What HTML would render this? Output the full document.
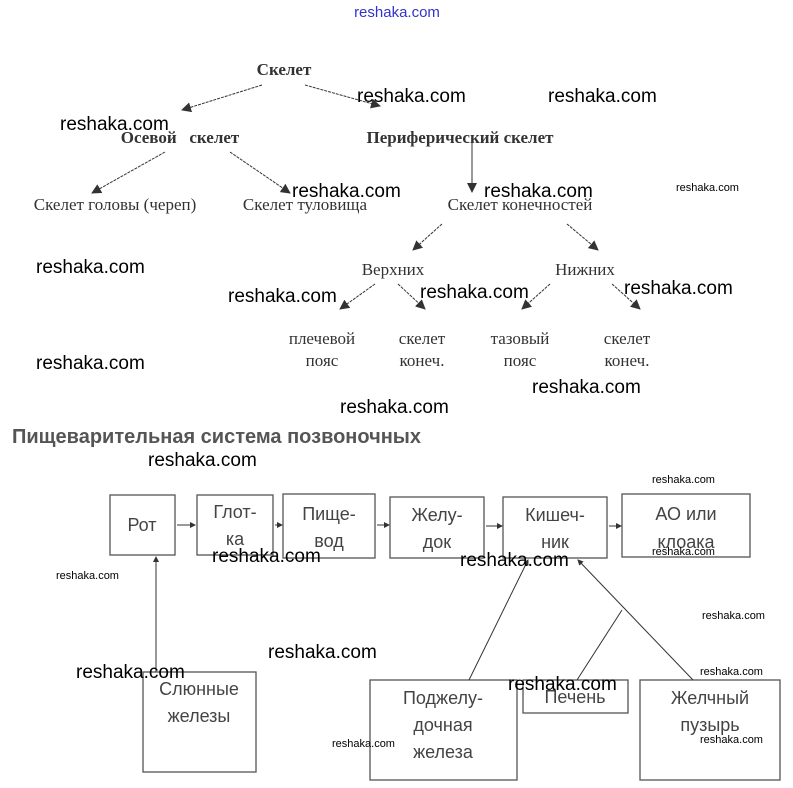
<!DOCTYPE html>
<html><head><meta charset="utf-8"><style>
html,body{margin:0;padding:0;background:#fff;}
svg{display:block}
.s{font-family:"Liberation Serif","DejaVu Serif",serif;fill:#333;font-size:17px}
.b{font-family:"Liberation Sans","DejaVu Sans",sans-serif;fill:#444;font-size:18px}
.w{font-family:"Liberation Sans","DejaVu Sans",sans-serif;fill:#000;font-size:19px}
.ws{font-family:"Liberation Sans","DejaVu Sans",sans-serif;fill:#000;font-size:11px}
</style></head><body>
<svg width="793" height="788" viewBox="0 0 793 788" xmlns="http://www.w3.org/2000/svg">
<defs><marker id="a" markerWidth="10" markerHeight="10" refX="9" refY="5" orient="auto" markerUnits="userSpaceOnUse"><path d="M0,0 L10,5 L0,10z" fill="#333"/></marker>
<marker id="m" markerWidth="6" markerHeight="6" refX="5" refY="3" orient="auto" markerUnits="userSpaceOnUse"><path d="M0,0 L6,3 L0,6z" fill="#333"/></marker></defs>
<text x="397" y="17" text-anchor="middle" font-family="Liberation Sans,sans-serif" font-size="15" fill="#3333cc">reshaka.com</text>
<g stroke="#333" stroke-width="1" stroke-dasharray="3,1" fill="none" marker-end="url(#a)">
<line x1="262" y1="85" x2="182" y2="110"/><line x1="305" y1="85" x2="380" y2="106"/>
<line x1="165" y1="152" x2="92" y2="193"/><line x1="230" y1="152" x2="290" y2="193"/>
<line x1="472" y1="142" x2="472" y2="192" stroke-dasharray="none"/>
<line x1="442" y1="224" x2="413" y2="250"/><line x1="567" y1="224" x2="598" y2="250"/>
<line x1="375" y1="284" x2="340" y2="309"/><line x1="398" y1="284" x2="425" y2="309"/>
<line x1="550" y1="284" x2="522" y2="309"/><line x1="612" y1="284" x2="640" y2="309"/>
</g>
<g class="s" text-anchor="middle">
<text x="284" y="75" font-weight="bold">Скелет</text>
<text x="180" y="143" font-weight="bold">Осевой &#160; скелет</text>
<text x="460" y="143" font-weight="bold">Периферический скелет</text>
<text x="115" y="210">Скелет головы (череп)</text>
<text x="305" y="210">Скелет туловища</text>
<text x="520" y="210">Скелет конечностей</text>
<text x="393" y="275">Верхних</text>
<text x="585" y="275">Нижних</text>
<text x="322" y="344">плечевой</text><text x="322" y="366">пояс</text>
<text x="422" y="344">скелет</text><text x="422" y="366">конеч.</text>
<text x="520" y="344">тазовый</text><text x="520" y="366">пояс</text>
<text x="627" y="344">скелет</text><text x="627" y="366">конеч.</text>
</g>
<text x="12" y="443" font-family="Liberation Sans,sans-serif" font-size="20" font-weight="bold" fill="#555">Пищеварительная система позвоночных</text>
<g fill="none" stroke="#555" stroke-width="1.3">
<rect x="110" y="495" width="65" height="60"/><rect x="197" y="495" width="76" height="60"/>
<rect x="283" y="494" width="92" height="64"/><rect x="390" y="497" width="94" height="61"/>
<rect x="503" y="497" width="104" height="61"/><rect x="622" y="494" width="128" height="63"/>
<rect x="143" y="672" width="113" height="100"/><rect x="370" y="680" width="147" height="100"/>
<rect x="523" y="680" width="105" height="33"/><rect x="640" y="680" width="140" height="100"/>
</g>
<g stroke="#333" stroke-width="1" fill="none" marker-end="url(#m)">
<line x1="177" y1="525" x2="195" y2="525"/><line x1="275" y1="525" x2="282" y2="525"/>
<line x1="377" y1="525" x2="389" y2="525"/><line x1="486" y1="526" x2="502" y2="526"/>
<line x1="609" y1="526" x2="621" y2="526"/><line x1="156" y1="672" x2="156" y2="557"/>
<line x1="469" y1="680" x2="528" y2="560"/><line x1="693" y1="680" x2="578" y2="560"/>
</g>
<line x1="577" y1="680" x2="622" y2="610" stroke="#333"/>
<g class="b" text-anchor="middle">
<text x="142" y="531">Рот</text>
<text x="235" y="518">Глот-</text><text x="235" y="545">ка</text>
<text x="329" y="520">Пище-</text><text x="329" y="547">вод</text>
<text x="437" y="521">Желу-</text><text x="437" y="548">док</text>
<text x="555" y="521">Кишеч-</text><text x="555" y="548">ник</text>
<text x="686" y="520">АО или</text><text x="686" y="548">клоака</text>
<text x="199" y="695">Слюнные</text><text x="199" y="722">железы</text>
<text x="443" y="704">Поджелу-</text><text x="443" y="731">дочная</text><text x="443" y="758">железа</text>
<text x="575" y="703">Печень</text>
<text x="710" y="704">Желчный</text><text x="710" y="731">пузырь</text>
</g>
<g class="w">
<text x="357" y="102">reshaka.com</text><text x="548" y="102">reshaka.com</text>
<text x="60" y="130">reshaka.com</text><text x="292" y="197">reshaka.com</text>
<text x="484" y="197">reshaka.com</text><text x="36" y="273">reshaka.com</text>
<text x="228" y="302">reshaka.com</text><text x="420" y="298">reshaka.com</text>
<text x="624" y="294">reshaka.com</text><text x="36" y="369">reshaka.com</text>
<text x="532" y="393">reshaka.com</text><text x="340" y="413">reshaka.com</text>
<text x="148" y="466">reshaka.com</text><text x="212" y="562">reshaka.com</text>
<text x="460" y="566">reshaka.com</text><text x="268" y="658">reshaka.com</text>
<text x="76" y="678">reshaka.com</text><text x="508" y="690">reshaka.com</text>
</g>
<g class="ws">
<text x="676" y="191">reshaka.com</text><text x="652" y="483">reshaka.com</text>
<text x="652" y="555">reshaka.com</text><text x="56" y="579">reshaka.com</text>
<text x="702" y="619">reshaka.com</text><text x="700" y="675">reshaka.com</text>
<text x="700" y="743">reshaka.com</text><text x="332" y="747">reshaka.com</text>
</g>
</svg>
</body></html>
